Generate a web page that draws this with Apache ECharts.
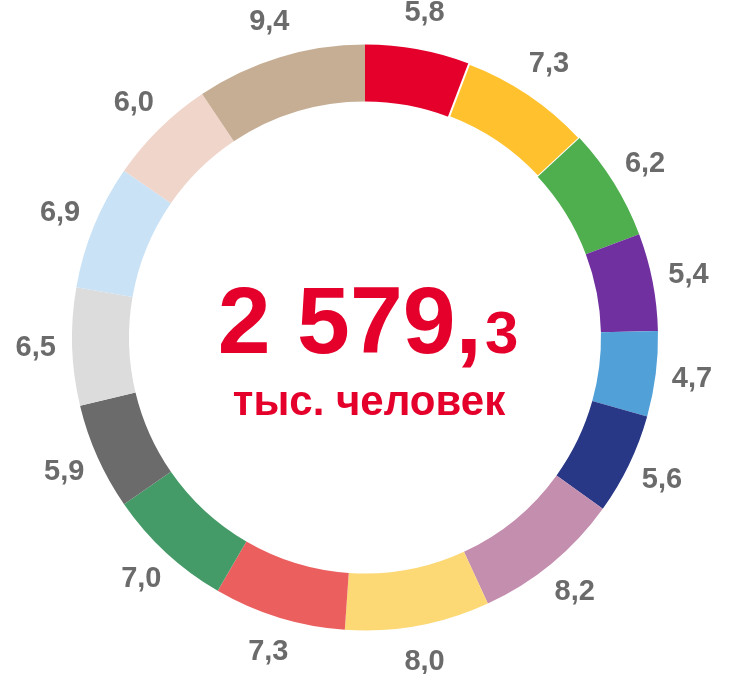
<!DOCTYPE html>
<html><head><meta charset="utf-8">
<script src="https://cdn.jsdelivr.net/npm/echarts@6/dist/echarts.min.js"></script>
<style>html,body{margin:0;padding:0;background:#fff}#c{width:733px;height:674px}</style>
</head><body><div id="c"></div>
<script>
const values = [5.8, 7.3, 6.2, 5.4, 4.7, 5.6, 8.2, 8.0, 7.3, 7.0, 5.9, 6.5, 6.9, 6.0, 9.4];
const labels = ['5,8','7,3','6,2','5,4','4,7','5,6','8,2','8,0','7,3','7,0','5,9','6,5','6,9','6,0','9,4'];
const colors = ['#E4002B','#FFC22E','#4FAF4F','#7030A0','#52A0D8','#283786','#C48EAF','#FCD975','#EB5F5F','#459B68','#6B6B6B','#DCDCDC','#C9E2F6','#F0D5CB','#C6AE94'];
const totalMain = '2 579,';
const totalDec = '3';
const unitText = 'тыс. человек';

const chart = echarts.init(document.getElementById('c'), null, {renderer:'canvas'});
const font = '"Liberation Sans", Arial, sans-serif';
const ringData = values.map((v,i)=>({value:v, name:labels[i], itemStyle:{color:colors[i], borderColor:'#fff', borderWidth: i===1 ? 2 : 0}}));
const labelData = values.map((v,i)=>({value:v, name:labels[i]}));
chart.setOption({
  animation:false,
  series:[
    {type:'pie', center:[365,337.5], radius:[236,293], startAngle:90, clockwise:true, silent:true,
     label:{show:false}, labelLine:{show:false}, emphasis:{disabled:true}, data:ringData},
    {type:'pie', center:[365,337.5], radius:[293,360], startAngle:90, clockwise:true, silent:true,
     itemStyle:{color:'rgba(0,0,0,0)'}, emphasis:{disabled:true},
     label:{show:true, position:'inside', formatter:'{b}', color:'#6B6B6B', fontSize:29, fontWeight:'bold', fontFamily:font},
     labelLine:{show:false}, data:labelData}
  ],
  graphic:[
    {type:'text', x:482, y:374, style:{text:totalMain, fill:'#E4002B', font:'bold 95px '+font, textAlign:'right', textVerticalAlign:'bottom'}},
    {type:'text', x:485, y:366, style:{text:totalDec, fill:'#E4002B', font:'bold 60px '+font, textAlign:'left', textVerticalAlign:'bottom'}},
    {type:'text', x:369, y:403, style:{text:unitText, fill:'#E4002B', font:'bold 42px '+font, textAlign:'center', textVerticalAlign:'middle'}}
  ]
});
</script></body></html>
